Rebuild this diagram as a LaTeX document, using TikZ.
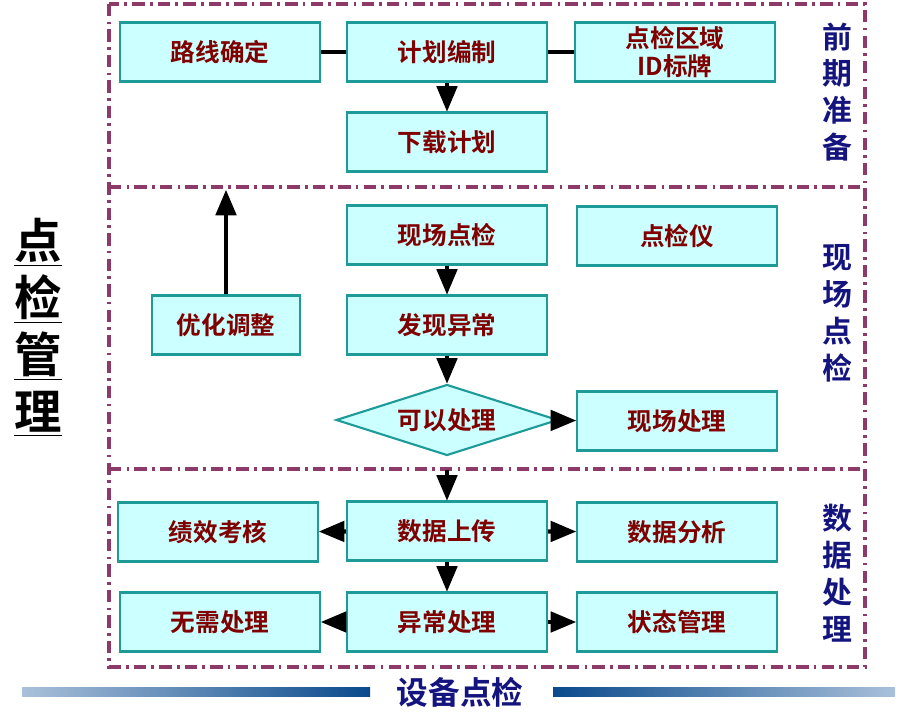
\documentclass[tikz,border=0pt]{standalone}
\usepackage{fontspec}
\usepackage{tikz}
\usetikzlibrary{arrows,shapes.geometric}
\setmainfont{Noto Sans CJK SC}[BoldFont={Noto Sans CJK SC Bold}]
\definecolor{boxfill}{HTML}{CCFFFF}
\definecolor{boxline}{HTML}{1E9A98}
\definecolor{boxtext}{HTML}{800000}
\definecolor{zone}{HTML}{8E3A68}
\definecolor{navy}{HTML}{14147F}
\definecolor{barlight}{HTML}{A9C0DA}
\definecolor{bardark}{HTML}{0A4A8C}

\begin{document}
\begin{tikzpicture}[x=0.02cm,y=-0.02cm,
  box/.style={rectangle,draw=boxline,fill=boxfill,line width=1.2pt,minimum width=4cm,minimum height=1.18cm,
    font=\fontsize{14}{15}\selectfont\bfseries,text=boxtext,align=center,inner sep=1pt},
  choice/.style={diamond,draw=boxline,fill=boxfill,line width=1.2pt,minimum width=4.44cm,minimum height=1.42cm,
    aspect=3.1,inner sep=0pt,font=\fontsize{14}{15}\selectfont\bfseries,text=boxtext},
  conn/.style={line width=2.4pt},
  arr/.style={conn,-triangle 45},
  zoneline/.style={draw=zone,line width=2pt,dash pattern=on 7pt off 3pt on 1.5pt off 3pt},
  side/.style={font=\fontsize{17}{21}\selectfont\bfseries,text=navy,align=center}]

  \useasboundingbox (0,0) rectangle (910,715);

  \draw[zoneline] (109,4) rectangle (865,667);
  \draw[zoneline] (109,187) -- (865,187);
  \draw[zoneline] (109,469) -- (865,469);

  \node[box] (route) at (220,52) {路线确定};
  \node[box] (plan) at (447,52) {计划编制};
  \node[box] (tag) at (675,52) {点检区域\\[1pt]ID标牌};
  \node[box] (load) at (447,142) {下载计划};
  \node[box] (check) at (447,235) {现场点检};
  \node[box] (device) at (677,236) {点检仪};
  \node[box,minimum width=2.96cm] (tune) at (226,325) {优化调整};
  \node[box] (find) at (447,325) {发现异常};
  \node[choice] (can) at (447,420) {可以处理};
  \node[box] (site) at (677,421) {现场处理};
  \node[box] (perf) at (218,532) {绩效考核};
  \node[box] (upload) at (447,531) {数据上传};
  \node[box] (analyse) at (677,532) {数据分析};
  \node[box] (none) at (220,622) {无需处理};
  \node[box] (abn) at (447,622) {异常处理};
  \node[box] (state) at (677,622) {状态管理};
  \coordinate (back) at (226,190);

  \path[conn]
    (route) edge (plan)
    (plan) edge (tag);
  \path[arr]
    (plan) edge (load)
    (check) edge (find)
    (find) edge (can)
    (can) edge (site)
    (tune) edge (back)
    (can) edge[shorten <=0.27cm] (upload)
    (upload) edge (perf)
    (upload) edge (analyse)
    (upload) edge (abn)
    (abn) edge (none)
    (abn) edge (state);

  \node[side] (prep) at (837,92) {前\\期\\准\\备};
  \node[side] (field) at (837,313) {现\\场\\点\\检};
  \node[side] (data) at (837,573) {数\\据\\处\\理};

  \node[font=\fontsize{27}{32.5}\selectfont\bfseries,align=center] (title) at (38,327)
    {\underline{点}\\\underline{检}\\\underline{管}\\\underline{理}};

  \shade[left color=barlight,right color=bardark] (22,688) rectangle (370,697);
  \shade[left color=bardark,right color=barlight] (553,688) rectangle (895,697);
  \node[font=\fontsize{18}{20}\selectfont\bfseries,text=navy] (foot) at (460,692) {设备点检};
\end{tikzpicture}
\end{document}
